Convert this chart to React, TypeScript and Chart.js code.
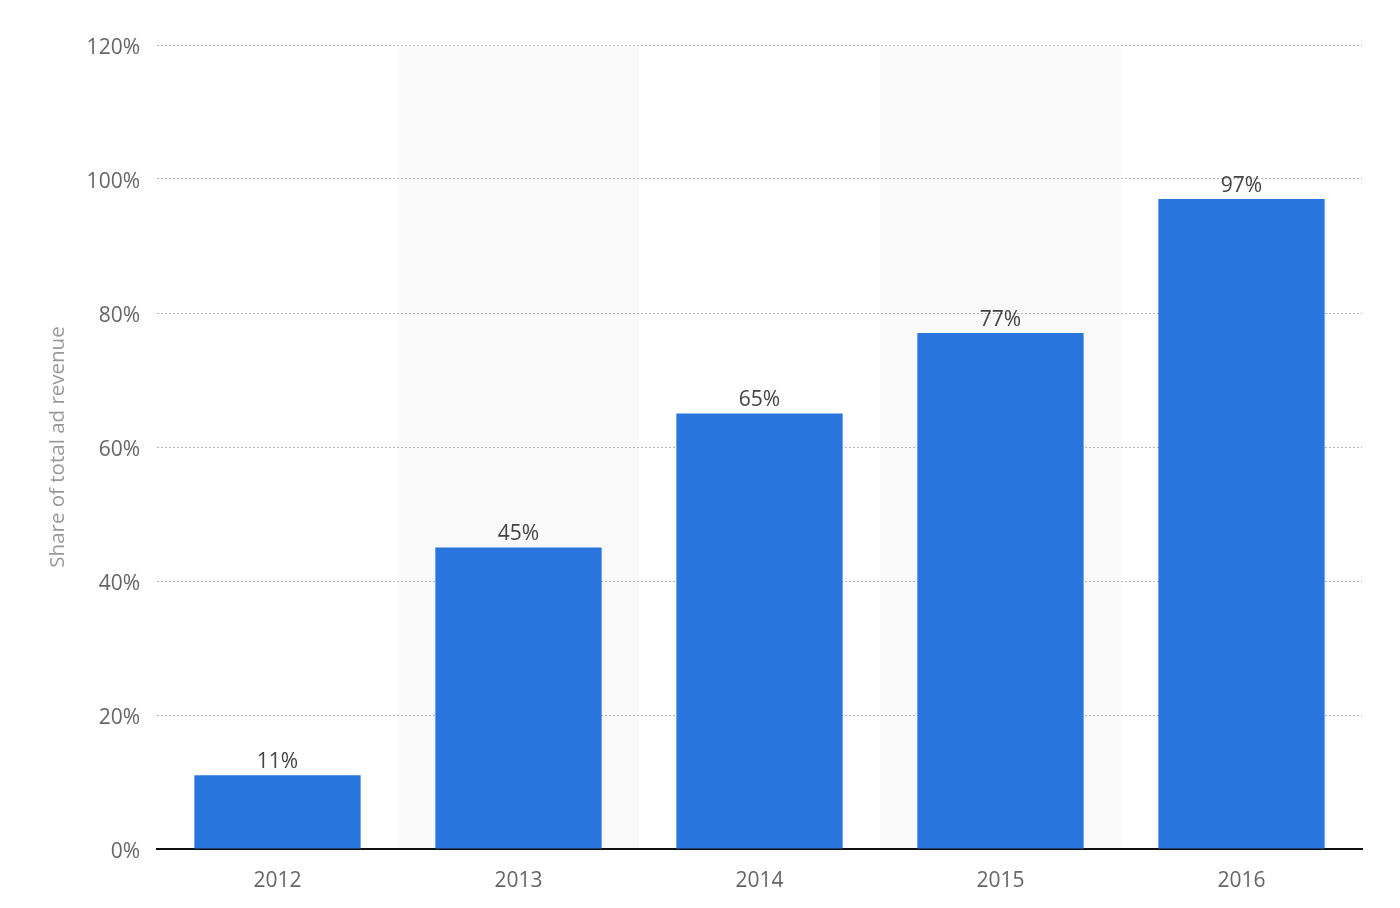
import React, { useEffect, useRef } from "react";
import { Chart, registerables } from "chart.js";

Chart.register(...registerables);

const categories = ["2012", "2013", "2014", "2015", "2016"];
const shareValues = [11, 45, 65, 77, 97];
const yTicks = [0, 20, 40, 60, 80, 100, 120];
const shadedIndexes = [1, 3];
const yTitle = "Share of total ad revenue";

const FONT = "'Open Sans', sans-serif";

const bandPlugin = {
  id: "bands",
  beforeDraw(chart: any) {
    const { ctx, chartArea } = chart;
    const x = chart.scales.x;
    const step = (chartArea.right - chartArea.left) / categories.length;
    ctx.save();
    ctx.fillStyle = "#f9f9f9";
    shadedIndexes.forEach((i) => {
      const cx = x.getPixelForValue(i);
      ctx.fillRect(cx - step / 2, chartArea.top + 1, step, chartArea.bottom - chartArea.top - 1);
    });
    ctx.restore();
  },
};

const labelPlugin = {
  id: "valueLabels",
  afterDatasetsDraw(chart: any) {
    const { ctx } = chart;
    const meta = chart.getDatasetMeta(0);
    ctx.save();
    ctx.fillStyle = "#444";
    ctx.font = `21px ${FONT}`;
    ctx.textAlign = "center";
    ctx.textBaseline = "bottom";
    meta.data.forEach((bar: any, i: number) => {
      ctx.fillText(shareValues[i] + "%", bar.x, bar.y - 3);
    });
    ctx.restore();
  },
};

export default function App() {
  const ref = useRef<HTMLCanvasElement>(null);
  useEffect(() => {
    document.body.style.margin = "0";
    const chart = new Chart(ref.current!, {
      type: "bar",
      data: {
        labels: categories,
        datasets: [
          {
            data: shareValues,
            backgroundColor: "#2876dd",
            borderWidth: 0,
            categoryPercentage: 1,
            barPercentage: 0.69,
          },
        ],
      },
      options: {
        animation: false,
        responsive: false,
        maintainAspectRatio: false,
        layout: { padding: { top: 45, right: 38, left: 0, bottom: 0 } },
        plugins: { legend: { display: false }, tooltip: { enabled: false } },
        scales: {
          x: {
            grid: { display: false, drawTicks: false },
            border: { color: "#111", width: 2 },
            ticks: { color: "#666", font: { family: FONT, size: 21 }, padding: 19 },
            afterFit(scale: any) {
              scale.height = 59;
            },
          },
          y: {
            min: 0,
            max: 120,
            afterBuildTicks(scale: any) {
              scale.ticks = yTicks.map((v) => ({ value: v }));
            },
            grid: { color: "#b4b4b4", lineWidth: 1, drawTicks: false },
            border: { display: false, dash: [2, 2] },
            ticks: {
              color: "#666",
              font: { family: FONT, size: 21 },
              padding: 17,
              labelOffset: 3,
              callback: (v: any) => v + "%",
            },
            title: {
              display: true,
              text: yTitle,
              color: "#999",
              font: { family: FONT, size: 20.5 },
              padding: { top: 46, bottom: 0 },
            },
            afterFit(scale: any) {
              scale.width = 157;
            },
          },
        },
      },
      plugins: [bandPlugin, labelPlugin],
    });
    return () => chart.destroy();
  }, []);
  return (
    <div style={{ position: "absolute", left: 0, top: 0, width: 1400, height: 908 }}>
      <canvas ref={ref} width={1400} height={908} />
    </div>
  );
}
